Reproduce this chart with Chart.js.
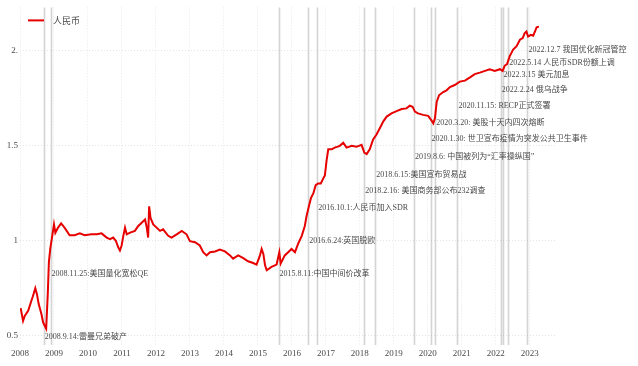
<!DOCTYPE html>
<html>
<head>
<meta charset="utf-8">
<script src="https://cdn.jsdelivr.net/npm/chart.js@4.4.0/dist/chart.umd.min.js"></script>
<style>
html,body{margin:0;padding:0;background:#fff;}
#wrap{width:638px;height:366px;position:relative;}
</style>
</head>
<body>
<div id="wrap"><canvas id="c"></canvas></div>
<script>
// ---- data ----
const seriesName = '人民币';
const dates = [2008.02,2008.09,2008.14,2008.24,2008.33,2008.38,2008.45,2008.50,2008.55,2008.63,2008.68,2008.73,2008.77,2008.82,2008.85,2008.89,2008.95,2009.00,2009.04,2009.12,2009.21,2009.31,2009.46,2009.61,2009.76,2009.90,2010.10,2010.26,2010.40,2010.55,2010.65,2010.74,2010.82,2010.89,2010.94,2010.99,2011.04,2011.09,2011.14,2011.24,2011.38,2011.48,2011.58,2011.68,2011.73,2011.77,2011.80,2011.84,2011.92,2012.02,2012.12,2012.21,2012.36,2012.46,2012.61,2012.76,2012.90,2013.00,2013.15,2013.29,2013.39,2013.49,2013.59,2013.74,2013.88,2014.03,2014.18,2014.27,2014.42,2014.57,2014.71,2014.86,2014.96,2015.06,2015.11,2015.16,2015.21,2015.26,2015.40,2015.55,2015.63,2015.67,2015.79,2015.89,2015.99,2016.09,2016.19,2016.29,2016.38,2016.43,2016.50,2016.56,2016.63,2016.70,2016.77,2016.85,2016.92,2016.97,2017.02,2017.07,2017.17,2017.26,2017.41,2017.51,2017.61,2017.76,2017.90,2018.05,2018.13,2018.20,2018.29,2018.39,2018.49,2018.59,2018.69,2018.79,2018.93,2019.08,2019.23,2019.37,2019.47,2019.55,2019.62,2019.71,2019.86,2020.01,2020.11,2020.16,2020.21,2020.26,2020.33,2020.45,2020.55,2020.65,2020.79,2020.94,2021.09,2021.24,2021.38,2021.53,2021.68,2021.82,2021.97,2022.12,2022.20,2022.26,2022.33,2022.41,2022.51,2022.61,2022.71,2022.79,2022.85,2022.90,2022.95,2023.03,2023.10,2023.15,2023.20,2023.27];
const values = [0.644,0.577,0.603,0.630,0.680,0.706,0.749,0.716,0.665,0.613,0.569,0.550,0.536,0.730,0.886,0.955,1.025,1.084,1.040,1.067,1.089,1.067,1.027,1.027,1.037,1.027,1.032,1.032,1.037,1.015,1.007,1.015,0.998,0.964,0.947,0.973,1.024,1.067,1.032,1.041,1.050,1.076,1.093,1.110,1.067,1.015,1.179,1.119,1.084,1.067,1.050,1.058,1.024,1.015,1.032,1.050,1.032,0.996,0.990,0.973,0.938,0.921,0.938,0.942,0.952,0.942,0.921,0.904,0.921,0.907,0.890,0.881,0.873,0.921,0.955,0.929,0.869,0.843,0.861,0.873,0.938,0.878,0.921,0.938,0.955,0.938,0.985,1.024,1.076,1.127,1.179,1.222,1.247,1.290,1.299,1.299,1.325,1.342,1.419,1.479,1.479,1.488,1.497,1.513,1.488,1.497,1.492,1.502,1.462,1.454,1.479,1.531,1.557,1.591,1.626,1.651,1.668,1.680,1.691,1.694,1.708,1.703,1.677,1.668,1.660,1.655,1.630,1.615,1.643,1.728,1.763,1.780,1.789,1.806,1.817,1.835,1.840,1.857,1.874,1.882,1.891,1.900,1.891,1.900,1.891,1.918,1.927,1.969,2.003,2.021,2.055,2.064,2.090,2.098,2.072,2.081,2.076,2.098,2.120,2.124];
const yearTicks = [2008,2009,2010,2011,2012,2013,2014,2015,2016,2017,2018,2019,2020,2021,2022,2023];
const yTicks = [0.5,1,1.5,2];
const yTickLabels = ['0.5','1','1.5','2.'];
const eventDates = ['2008-09-14','2008-11-25','2015-08-11','2016-06-24','2016-10-01','2018-02-16','2018-06-15','2019-08-06','2020-01-30','2020-03-20','2020-11-15','2022-02-24','2022-03-15','2022-05-14','2022-12-07'];
const eventLabels = ['2008.9.14:雷曼兄弟破产','2008.11.25:美国量化宽松QE','2015.8.11:中国中间价改革','2016.6.24:英国脱欧','2016.10.1:人民币加入SDR','2018.2.16: 美国商务部公布232调查','2018.6.15:美国宣布贸易战','2019.8.6: 中国被列为“汇率操纵国”','2020.1.30: 世卫宣布疫情为突发公共卫生事件','2020.3.20: 美股十天内四次熔断','2020.11.15: RECP正式签署','2022.2.24 俄乌战争','2022.3.15 美元加息','2022.5.14 人民币SDR份额上调','2022.12.7 我国优化新冠管控'];
const eventLabelLevels = [0.495,0.825,0.825,0.995,1.17,1.258,1.345,1.438,1.531,1.619,1.706,1.789,1.871,1.933,2.0];

// ---- helpers ----
function decYear(s){
  const [y,m,d] = s.split('-').map(Number);
  const start = Date.UTC(y,0,1), end = Date.UTC(y+1,0,1);
  return y + (Date.UTC(y,m-1,d) - start) / (end - start);
}
const FONT = "'Liberation Serif','Noto Sans CJK SC',serif";
const TXT = '#4a4a4a';

const eventsPlugin = {
  id: 'events',
  beforeDatasetsDraw(chart){
    const {ctx, chartArea:a, scales:{x}} = chart;
    ctx.save();
    ctx.strokeStyle = 'rgba(170,170,170,0.5)';
    ctx.lineWidth = 1.6;
    eventDates.forEach(d=>{
      const px = Math.round(x.getPixelForValue(decYear(d)))+0.5;
      ctx.beginPath(); ctx.moveTo(px, a.top); ctx.lineTo(px, a.bottom); ctx.stroke();
    });
    ctx.restore();
  },
  afterDatasetsDraw(chart){
    const {ctx, chartArea:a, scales:{x,y}} = chart;
    ctx.save();
    ctx.font = "8px " + FONT;
    ctx.fillStyle = TXT;
    ctx.textBaseline = 'middle';
    ctx.textAlign = 'left';
    eventDates.forEach((d,i)=>{
      const px = x.getPixelForValue(decYear(d));
      ctx.fillText(eventLabels[i], px+1, y.getPixelForValue(eventLabelLevels[i]));
    });
    // legend
    const ds = chart.data.datasets[0];
    ctx.strokeStyle = ds.borderColor; ctx.lineWidth = 2;
    ctx.beginPath(); ctx.moveTo(a.left+8, a.top+13); ctx.lineTo(a.left+24, a.top+13); ctx.stroke();
    ctx.font = "9px " + FONT;
    ctx.fillText(ds.label, a.left+33, a.top+14);
    ctx.restore();
  }
};

new Chart(document.getElementById('c'), {
  type: 'line',
  data: {
    datasets: [{
      label: seriesName,
      data: dates.map((d,i)=>({x:d, y:values[i]})),
      borderColor: '#e60000',
      borderWidth: 2,
      pointRadius: 0,
      tension: 0,
      fill: false
    }]
  },
  options: {
    responsive: true,
    maintainAspectRatio: false,
    animation: false,
    layout: {padding: {left:0, right:81, top:0, bottom:0}},
    plugins: {legend:{display:false}, tooltip:{enabled:false}},
    scales: {
      x: {
        type: 'linear', min: 2008, max: 2023.8,
        afterBuildTicks: s => { s.ticks = yearTicks.map(v=>({value:v})); },
        afterFit: s => { s.height = 21; },
        ticks: {callback: v => String(v), font:{family:FONT, size:9}, color:TXT, maxRotation:0, autoSkip:false, padding:3},
        grid: {color:'#e8e8e8', drawTicks:false, tickLength:0},
        border: {display:false, dash:[1,2]}
      },
      y: {
        min: 0.45, max: 2.225,
        afterBuildTicks: s => { s.ticks = yTicks.map(v=>({value:v})); },
        afterFit: s => { s.width = 20; },
        ticks: {callback: (v) => yTickLabels[yTicks.indexOf(v)], font:{family:FONT, size:9}, color:TXT, padding:2},
        grid: {color:'#e4e4e4', drawTicks:false, tickLength:0},
        border: {display:false, dash:[1,2]}
      }
    }
  },
  plugins: [eventsPlugin]
});
</script>
</body>
</html>
